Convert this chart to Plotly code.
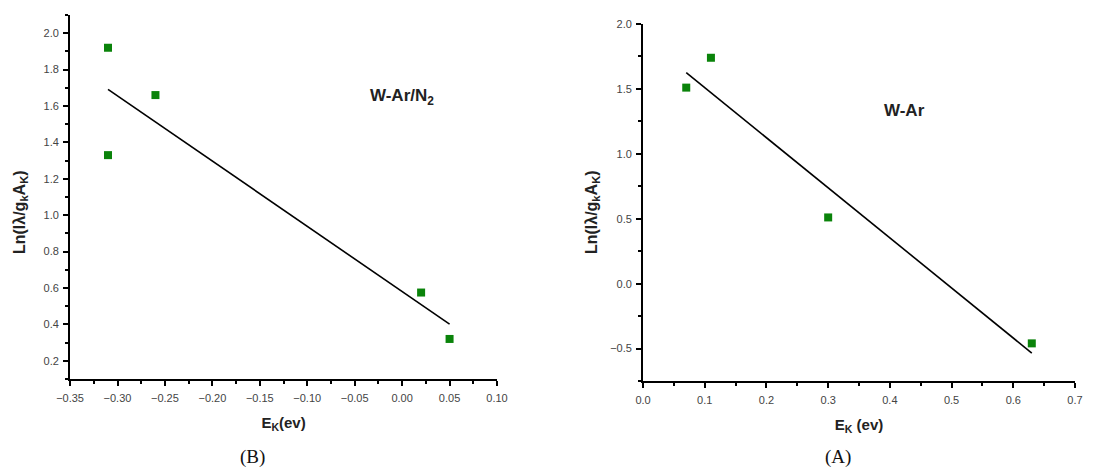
import numpy as np
import plotly.graph_objects as go

# (B) W-Ar/N2
ek_b = [-0.31, -0.31, -0.26, 0.02, 0.05]
ln_b = [1.92, 1.33, 1.66, 0.575, 0.32]

# (A) W-Ar
ek_a = [0.07, 0.11, 0.30, 0.63]
ln_a = [1.51, 1.74, 0.51, -0.46]

green = '#0a830a'
tick_font = dict(family='Liberation Sans, Arial', size=11, color='#444')
xtitle_font = dict(family='Liberation Sans, Arial', size=15, color='#222')
ytitle_font = dict(family='Liberation Sans, Arial', size=16, color='#222')
label_font = dict(family='Liberation Sans, Arial', size=17, color='#222')
caption_font = dict(family='Liberation Serif, Times New Roman', size=19, color='#111')

# page body adds an 8px offset, so the figure is drawn 8px smaller
W, H = 1085, 460


def fit_line(x, y):
    # least-squares straight line through the points, drawn between the extreme x
    k, b = np.polyfit(x, y, 1)
    xs = np.array([min(x), max(x)])
    return xs, k * xs + b


fig = go.Figure()

xb, yb = fit_line(ek_b, ln_b)
fig.add_trace(go.Scatter(x=xb, y=yb, mode='lines', line=dict(color='black', width=1.6),
                         xaxis='x', yaxis='y', showlegend=False))
fig.add_trace(go.Scatter(x=ek_b, y=ln_b, mode='markers',
                         marker=dict(symbol='square', size=8, color=green),
                         xaxis='x', yaxis='y', showlegend=False))

xa, ya = fit_line(ek_a, ln_a)
fig.add_trace(go.Scatter(x=xa, y=ya, mode='lines', line=dict(color='black', width=1.6),
                         xaxis='x2', yaxis='y2', showlegend=False))
fig.add_trace(go.Scatter(x=ek_a, y=ln_a, mode='markers',
                         marker=dict(symbol='square', size=8, color=green),
                         xaxis='x2', yaxis='y2', showlegend=False))

axis_common = dict(showgrid=False, zeroline=False, showline=True, linecolor='black',
                   linewidth=2, ticks='outside', ticklen=5, tickwidth=1.5,
                   tickcolor='black', tickfont=tick_font, automargin=False)

fig.update_layout(
    width=W, height=H,
    margin=dict(l=0, r=0, t=0, b=0),
    paper_bgcolor='white', plot_bgcolor='white',
    xaxis=dict(axis_common, domain=[0.0572, 0.4507], anchor='y',
               range=[-0.35, 0.10], dtick=0.05, tick0=0, tickformat='.2f',
               ticklabelstandoff=3,
               minor=dict(ticks='outside', dtick=0.025, ticklen=3, tickcolor='black'),
               title=dict(text='<b>E<sub>K</sub>(ev)</b>', font=xtitle_font, standoff=14)),
    yaxis=dict(axis_common, domain=[0.1935, 0.9848], anchor='x',
               range=[0.1, 2.1], dtick=0.2, tick0=0, tickformat='.1f',
               ticklabelstandoff=2,
               minor=dict(ticks='outside', dtick=0.1, ticklen=3, tickcolor='black')),
    xaxis2=dict(axis_common, domain=[0.5853, 0.9834], anchor='y2',
                range=[0, 0.7], dtick=0.1, tick0=0, tickformat='.1f',
                ticklabelstandoff=3,
                minor=dict(ticks='outside', dtick=0.05, ticklen=3, tickcolor='black'),
                title=dict(text='<b>E<sub>K</sub> (ev)</b>', font=xtitle_font, standoff=14)),
    yaxis2=dict(axis_common, domain=[0.1891, 0.9652], anchor='x2',
                range=[-0.75, 2.0], dtick=0.5, tick0=0, tickformat='.1f',
                ticklabelstandoff=2,
                minor=dict(ticks='outside', dtick=0.25, ticklen=3, tickcolor='black')),
    annotations=[
        dict(text='<b>Ln(Iλ/g<sub>k</sub>A<sub>K</sub>)</b>', textangle=-90,
             x=0.0111, y=0.5565, xref='paper', yref='paper', xanchor='center',
             yanchor='middle', showarrow=False, font=ytitle_font),
        dict(text='<b>Ln(Iλ/g<sub>k</sub>A<sub>K</sub>)</b>', textangle=-90,
             x=0.5383, y=0.5565, xref='paper', yref='paper', xanchor='center',
             yanchor='middle', showarrow=False, font=ytitle_font),
        dict(text='<b>W-Ar/N<sub>2</sub></b>', x=0.0, y=1.65, xref='x', yref='y',
             xanchor='center', yanchor='middle', showarrow=False, font=label_font),
        dict(text='<b>W-Ar</b>', x=0.4245, y=1.33, xref='x2', yref='y2',
             xanchor='center', yanchor='middle', showarrow=False, font=label_font),
        dict(text='(B)', x=0.2258, y=0.0239, xref='paper', yref='paper',
             xanchor='center', yanchor='middle', showarrow=False, font=caption_font),
        dict(text='(A)', x=0.7650, y=0.0239, xref='paper', yref='paper',
             xanchor='center', yanchor='middle', showarrow=False, font=caption_font),
    ],
)

fig.write_html("out.html")
